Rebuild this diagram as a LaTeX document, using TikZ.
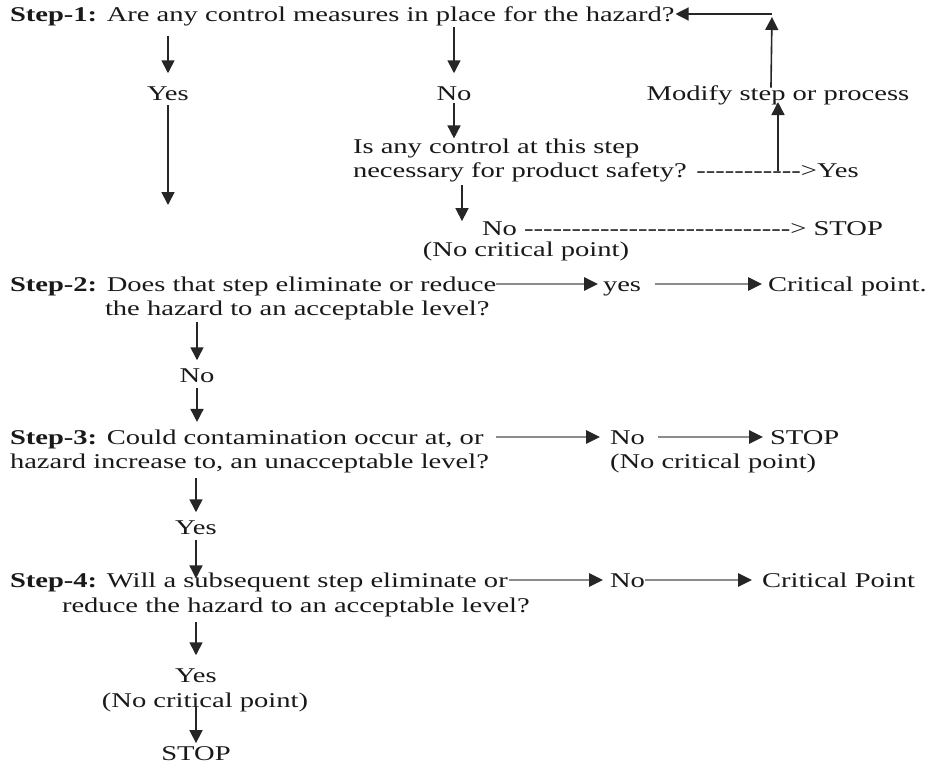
\documentclass[tikz,border=0pt]{standalone}
\usepackage{fontspec}
\setmainfont{Liberation Serif}[FakeStretch=1.36]
\usetikzlibrary{arrows.meta}
\newcommand\hyph[1]{\foreach \i in {1,...,#1}{-\kern0pt}}
\begin{document}
\begin{tikzpicture}[x=1pt,y=-1pt,
  txt/.style={inner sep=0pt, outer sep=0pt, font=\fontsize{21}{24}\selectfont, text=black!90},
  lt/.style={txt, anchor=base west},
  ct/.style={txt, anchor=base},
  arr/.style={draw=black!85, line width=1.6pt, -{Triangle[length=13pt,width=13pt]}},
  garr/.style={draw=black!45, line width=2.6pt, -{Triangle[length=14pt,width=13pt,color=black!85,fill=black!85]}},
]
\useasboundingbox (0,0) rectangle (937,769);
\fill[white] (0,0) rectangle (937,769);

% Step 1
\node[lt] (s1) at (10,21) {\textbf{Step-1:} Are any control measures in place for the hazard?};
\node[ct] (yes1) at (168,100) {Yes};
\node[ct] (no1) at (454,100) {No};
\node[ct] (mod) at (778,100) {Modify step or process};
\node[lt] (q1a) at (353,153) {Is any control at this step};
\node[lt] (q1b) at (353,177) {necessary for product safety? \hyph{11}>Yes};
\node[lt] (no2) at (482,235) {No \hyph{28}> STOP};
\node[ct] (ncp1) at (526,256) {(No critical point)};
\coordinate (yesdn) at (168,205);
\coordinate (corner) at (772,14);

% Step 2
\node[lt] (s2a) at (10,291) {\textbf{Step-2:} Does that step eliminate or reduce};
\node[lt] (s2b) at (105,315) {the hazard to an acceptable level?};
\node[lt] (yes2) at (603,291) {yes};
\node[lt] (cp2) at (768,291) {Critical point.};
\node[ct] (no3) at (197,382) {No};

% Step 3
\node[lt] (s3a) at (10,444) {\textbf{Step-3:} Could contamination occur at, or};
\node[lt] (s3b) at (10,468) {hazard increase to, an unacceptable level?};
\node[lt] (no4) at (610,444) {No};
\node[lt] (stop3) at (770,444) {STOP};
\node[lt] (ncp3) at (610,468) {(No critical point)};
\node[ct] (yes3) at (196,534) {Yes};

% Step 4
\node[lt] (s4a) at (10,587) {\textbf{Step-4:} Will a subsequent step eliminate or};
\node[lt] (s4b) at (62,612) {reduce the hazard to an acceptable level?};
\node[lt] (no5) at (610,587) {No};
\node[lt] (cp4) at (762,587) {Critical Point};
\node[ct] (yes4) at (196,682) {Yes};
\node[ct] (ncp4) at (205,707) {(No critical point)};
\node[ct] (stop4) at (196,760) {STOP};

% Step 1 connectors
\draw[arr, shorten <=10pt, shorten >=13pt] (s1.south -| yes1.north) -- (yes1.north);
\draw[arr, shorten <=1.5pt, shorten >=13pt] (s1.south -| no1.north) -- (no1.north);
\draw[arr, shorten <=5pt] (yes1.south) -- (yesdn);
\draw[arr, shorten <=3pt] (no1.south) -- (no1.south |- q1a.north);
\draw[arr, shorten <=6pt, shorten >=-2.5pt] (mod.south |- q1b.base) -- (mod.south);
\draw[arr, shorten <=-2.5pt, shorten >=3pt] ([xshift=-7pt]mod.north) -- (corner);
\draw[arr, line width=1.3pt, shorten >=1pt] (corner) -- ([yshift=7pt]s1.base east);
\draw[arr, shorten <=3.5pt] ([xshift=109pt]q1b.south west) -- ([xshift=-20pt]no2.north west);

% Step 2 connectors
\draw[garr, shorten >=5pt] ([yshift=7pt]s2a.base east) -- ([yshift=7pt]yes2.base west);
\draw[garr, shorten <=14pt, shorten >=6pt] ([yshift=7pt]yes2.base east) -- ([yshift=7pt]cp2.base west);
\draw[arr, shorten <=2.5pt, shorten >=8pt] (s2b.south -| no3.north) -- (no3.north);
\draw[arr, shorten <=6pt, shorten >=7.5pt] (no3.south) -- (no3.south |- s3a.north);

% Step 3 connectors
\draw[garr, shorten <=12pt, shorten >=10pt] ([yshift=7pt]s3a.base east) -- ([yshift=7pt]no4.base west);
\draw[garr, shorten <=13pt, shorten >=7pt] ([yshift=7pt]no4.base east) -- ([yshift=7pt]stop3.base west);
\draw[arr, shorten <=5.5pt, shorten >=8pt] (s3b.south -| yes3.north) -- (yes3.north);
\draw[arr, shorten <=6pt, shorten >=-6pt] (yes3.south) -- (yes3.south |- s4a.north);

% Step 4 connectors
\draw[garr, shorten <=1pt, shorten >=7pt] ([yshift=7pt]s4a.base east) -- ([yshift=7pt]no5.base west);
\draw[garr, shorten >=10pt] ([yshift=7pt]no5.base east) -- ([yshift=7pt]cp4.base west);
\draw[arr, shorten <=5.5pt, shorten >=13pt] (s4b.south -| yes4.north) -- (yes4.north);
\draw[arr, shorten <=-5.5pt, shorten >=3pt] (ncp4.south -| stop4.north) -- (stop4.north);
\end{tikzpicture}
\end{document}
